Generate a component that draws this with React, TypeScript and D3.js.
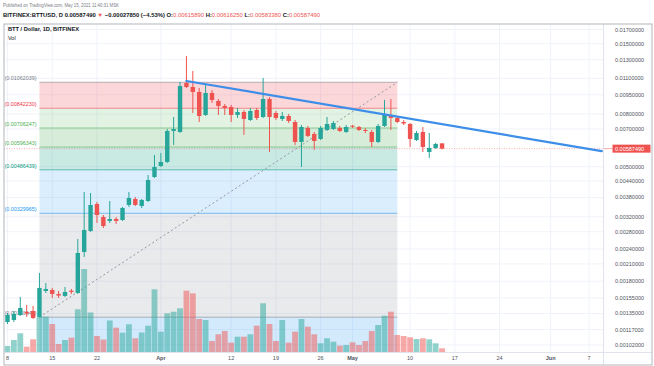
import React from "react";
import * as d3 from "d3";

// ---------- DATA ----------
const START = new Date(Date.UTC(2021, 2, 8)); // Mar 8 2021, first daily bar

const opens = [
  0.0012515, 0.001274, 0.0013322, 0.0013683, 0.0013805, 0.0013086, 0.0016502, 0.001665, 0.0016067, 0.0015783,
  0.0016547, 0.001621, 0.0023369, 0.0028185, 0.0035862, 0.0031935, 0.0030815, 0.0031371, 0.0031091, 0.0035543,
  0.0037498, 0.0035228, 0.0036834, 0.0045629, 0.0050333, 0.0052161, 0.0068784, 0.0068173, 0.010554, 0.010184,
  0.0097397, 0.0079333, 0.0096532, 0.0089885, 0.0085965, 0.0085202, 0.0079333, 0.0081483, 0.007587, 0.008295,
  0.0077931, 0.0091504, 0.008076, 0.0076553, 0.0078628, 0.0074529, 0.0062348, 0.0070646, 0.0066968, 0.0064048,
  0.00694, 0.0070019, 0.0070646, 0.0068173, 0.0072108, 0.0071279, 0.00694, 0.0068173, 0.0062348, 0.0071917,
  0.0078628, 0.0077239, 0.0074529, 0.0073212, 0.006347, 0.0068173, 0.0057033, 0.00591, 0.0061589,
];
const highs = [
  0.0013561, 0.0013805, 0.0015643, 0.0014565, 0.0014436, 0.0019378, 0.0017723, 0.0016951, 0.0016502, 0.0017103,
  0.00168, 0.0026244, 0.0039914, 0.0039559, 0.0036507, 0.003251, 0.0036834, 0.0031935, 0.0034915, 0.0039914,
  0.0038173, 0.0037498, 0.004645, 0.0055528, 0.0056527, 0.0070019, 0.0077931, 0.010648, 0.013428, 0.011747,
  0.010094, 0.010367, 0.009915, 0.0091504, 0.0087512, 0.0086735, 0.0084446, 0.008295, 0.0084446, 0.0084446,
  0.011036, 0.009315, 0.0082213, 0.0081483, 0.0080043, 0.007587, 0.0072561, 0.0071917, 0.0068173, 0.0071917,
  0.0077931, 0.0075196, 0.0071917, 0.0072561, 0.0072561, 0.0071917, 0.0070646, 0.00694, 0.0073212, 0.009069,
  0.0091504, 0.0078628, 0.007587, 0.0073867, 0.0068784, 0.0071279, 0.0067568, 0.0061794, 0.0061625,
];
const lows = [
  0.0012294, 0.0012515, 0.0013203, 0.0013086, 0.0012855, 0.0013065, 0.001621, 0.0015504, 0.0015504, 0.0015643,
  0.0016067, 0.0016067, 0.002235, 0.0027934, 0.003027, 0.002895, 0.003027, 0.0030002, 0.0030815, 0.0034915,
  0.0035228, 0.0034605, 0.0036507, 0.0045224, 0.0049887, 0.0051698, 0.0060702, 0.0067568, 0.010094, 0.008076,
  0.0074529, 0.0078628, 0.0088296, 0.0079333, 0.0079333, 0.0074529, 0.0077239, 0.0066373, 0.0075196, 0.007587,
  0.0077239, 0.0057033, 0.007587, 0.0075196, 0.0073867, 0.0060702, 0.0049887, 0.0065201, 0.005806, 0.006347,
  0.0068784, 0.00694, 0.0068173, 0.0067568, 0.0070646, 0.0068784, 0.0067568, 0.0059629, 0.0061794, 0.0071279,
  0.00694, 0.0073867, 0.0072561, 0.0059629, 0.0062906, 0.0057033, 0.0054063, 0.0058575, 0.0058338,
];
const closes = [
  0.0013322, 0.0013441, 0.0014181, 0.0013502, 0.001297, 0.0016951, 0.00168, 0.0016067, 0.0015846, 0.0016356,
  0.0016356, 0.0023162, 0.0028437, 0.0035543, 0.003251, 0.0029471, 0.0031371, 0.0030815, 0.0034605, 0.0037835,
  0.0035543, 0.0037164, 0.0044423, 0.0049887, 0.0052161, 0.0068784, 0.0070019, 0.010275, 0.010184, 0.0097397,
  0.0078628, 0.0096532, 0.009069, 0.0085965, 0.0084446, 0.0079333, 0.0081483, 0.0076553, 0.0082213, 0.0077239,
  0.0091504, 0.0077931, 0.0077239, 0.0078628, 0.0075196, 0.0062348, 0.0071279, 0.0065784, 0.0062906, 0.0070646,
  0.0073212, 0.0073867, 0.0068784, 0.0071279, 0.0071468, 0.00694, 0.0068784, 0.0062348, 0.0071917, 0.0079333,
  0.0077239, 0.0074529, 0.007354, 0.0064048, 0.0067568, 0.0059629, 0.00591, 0.0061246, 0.0058749,
];
// volume, millions of BTT (relative)
const volumes = [
  60, 120, 187, 53, 127, 353, 353, 280, 80, 120, 143, 427, 830, 395, 160, 125, 315, 243, 193, 277,
  137, 195, 263, 627, 203, 387, 403, 437, 613, 587, 330, 320, 110, 177, 210, 93, 153, 153, 177, 263,
  487, 280, 110, 320, 93, 203, 330, 253, 177, 87, 137, 103, 63, 70, 97, 70, 110, 210, 270, 363,
  403, 170, 160, 147, 130, 137, 127, 87, 37,
];

const priceTicks = [
  0.017, 0.015, 0.013, 0.011, 0.0095, 0.008, 0.007, 0.005, 0.0044, 0.0038, 0.0032, 0.0028, 0.0024,
  0.0021, 0.0018, 0.00155, 0.00135, 0.00117, 0.00102,
];
const timeTickDays = [0, 7, 14, 24, 35, 42, 49, 54, 63, 70, 77, 85, 91];
const timeTickLabels = ["8", "15", "22", "Apr", "12", "19", "26", "May", "10", "17", "24", "Jun", "7"];
const monthLabels = ["Apr", "May", "Jun"];

const fibLow = 0.00130647;
const fibHigh = 0.01062039;
const fibStartDay = 5;
const fibEndDay = 61;
const fibLevels = [0, 0.214, 0.382, 0.5, 0.618, 0.764, 1];
const fibColors = ["#787b86", "#2196f3", "#089981", "#4caf50", "#4caf50", "#f23645", "#787b86"];
const fibFillOpacity = [0.16, 0.16, 0.22, 0.22, 0.16, 0.2];

const trendDays = [28, 93];
const trendPrices = [0.010744, 0.005744];

const lastPrice = 0.0058749;

const FONT = "'Liberation Sans', Arial, Helvetica, sans-serif";
const UP = "#26a69a";
const DOWN = "#ef5350";

export default function App() {
  const W = 654, H = 366;
  const L = 4, R = 603, T = 24, B = 352;
  const day = (n: number) => d3.utcDay.offset(START, n);
  const x = d3.scaleUtc().domain([day(0), day(93)]).range([7.5, 601.8]);
  const y = d3.scaleLog().domain([0.017863, 0.0009574]).range([T, B]);
  const yv = d3.scaleLinear().domain([0, 1000]).range([B, B - 100]);
  const f8 = d3.format(".8f");

  const bars = opens.map((o, i) => ({
    d: day(i), o, h: highs[i], l: lows[i], c: closes[i], v: volumes[i], up: closes[i] >= o,
  }));

  const fx1 = x(day(fibStartDay));
  const fx2 = x(day(fibEndDay));
  const fibPrices = fibLevels.map((lv) => fibLow + lv * (fibHigh - fibLow));

  const trendLine = d3.line<number>()
    .x((_, i) => x(day(trendDays[i])))
    .y((p) => y(p));

  return (
    <svg width={W} height={H} style={{ position: "absolute", left: 0, top: 0, background: "#fff" }}
      fontFamily={FONT}>
      <defs>
        <clipPath id="plot"><rect x={L} y={T} width={R - L} height={B - T} /></clipPath>
      </defs>
      <rect x={0} y={0} width={W} height={H} fill="#fff" />

      {/* header */}
      <text x={3} y={7} fontSize={4.9} fill="#787b86" textLength={116} lengthAdjust="spacingAndGlyphs">
        Published on TradingView.com, May 15, 2021 11:40:31 MSK
      </text>
      <text x={3} y={17} fontSize={5.8} fill="#131722" textLength={317} lengthAdjust="spacingAndGlyphs">
        <tspan fontWeight="bold">BITFINEX:BTTUSD, D </tspan>
        <tspan fontWeight="bold">0.00587490 </tspan>
        <tspan fill={DOWN}>▼</tspan>
        <tspan fontWeight="bold"> −0.00027850 (−4.53%) O:</tspan>
        <tspan fill={DOWN}>0.00615890</tspan>
        <tspan fontWeight="bold"> H:</tspan>
        <tspan fill={DOWN}>0.00616250</tspan>
        <tspan fontWeight="bold"> L:</tspan>
        <tspan fill={DOWN}>0.00583380</tspan>
        <tspan fontWeight="bold"> C:</tspan>
        <tspan fill={DOWN}>0.00587490</tspan>
      </text>

      <g clipPath="url(#plot)">
        {/* grid */}
        {timeTickDays.map((d, i) => (
          <line key={"vg" + i} x1={x(day(d))} x2={x(day(d))} y1={T} y2={B} stroke="#f0f3fa" strokeWidth={1} />
        ))}
        {priceTicks.map((p, i) => (
          <line key={"hg" + i} x1={L} x2={R} y1={y(p)} y2={y(p)} stroke="#f0f3fa" strokeWidth={1} />
        ))}

        {/* fib zones */}
        {fibPrices.slice(0, -1).map((p, i) => (
          <rect key={"fz" + i} x={fx1} width={fx2 - fx1} y={y(fibPrices[i + 1])}
            height={y(p) - y(fibPrices[i + 1])} fill={fibColors[i]} fillOpacity={fibFillOpacity[i]} />
        ))}
        <rect x={fx1} width={fx2 - fx1} y={y(fibLow)} height={B - y(fibLow)} fill="#2196f3" fillOpacity={0.2} />
        {fibPrices.map((p, i) => (
          <line key={"fl" + i} x1={fx1} x2={fx2} y1={y(p)} y2={y(p)} stroke={fibColors[i]}
            strokeOpacity={0.55} strokeWidth={1} />
        ))}
        <line x1={fx1} y1={y(fibLow)} x2={fx2} y2={y(fibHigh)} stroke="#9598a1" strokeWidth={1}
          strokeDasharray="2,2.5" />
        {fibPrices.map((p, i) => (
          <text key={"ft" + i} x={4.5} y={y(p) - 2} fontSize={5} fill={fibColors[i]}
            textLength={32} lengthAdjust="spacingAndGlyphs">{`(${f8(p)})`}</text>
        ))}

        {/* volume */}
        {bars.map((b, i) => (
          <rect key={"v" + i} x={x(b.d) - 2.9} width={5.8} y={yv(b.v)} height={B - yv(b.v)}
            fill={b.up ? UP : DOWN} fillOpacity={0.5} />
        ))}

        {/* price line */}
        <line x1={L} x2={R} y1={y(lastPrice)} y2={y(lastPrice)} stroke={DOWN} strokeOpacity={0.45}
          strokeDasharray="1,1.5" strokeWidth={1} />

        {/* candles */}
        {bars.map((b, i) => {
          const cx = x(b.d);
          const col = b.up ? UP : DOWN;
          const top = y(Math.max(b.o, b.c));
          const bot = y(Math.min(b.o, b.c));
          return (
            <g key={"c" + i}>
              <line x1={cx} x2={cx} y1={y(b.h)} y2={y(b.l)} stroke={col} strokeWidth={1} />
              <rect x={cx - 2.2} width={4.4} y={top} height={Math.max(1, bot - top)} fill={col} />
            </g>
          );
        })}

        {/* trend line */}
        <path d={trendLine(trendPrices) || ""} fill="none" stroke="#3d8ee8" strokeWidth={2.2}
          strokeLinecap="round" />
      </g>

      {/* price axis */}
      {priceTicks.map((p, i) => (
        <text key={"pt" + i} x={615} y={y(p) + 2} fontSize={5.5} fill="#50535e">{f8(p)}</text>
      ))}
      <line x1={R} x2={612.5} y1={y(lastPrice)} y2={y(lastPrice)} stroke={DOWN} strokeOpacity={0.5} />
      <rect x={612.5} y={y(lastPrice) - 4} width={38} height={8} fill={DOWN} />
      <text x={615} y={y(lastPrice) + 2} fontSize={5.5} fill="#fff">{f8(lastPrice)}</text>

      {/* time axis */}
      {timeTickDays.map((d, i) => (
        <text key={"tt" + i} x={x(day(d))} y={359.5} fontSize={5.5} textAnchor="middle" fill="#50535e"
          fontWeight={monthLabels.includes(timeTickLabels[i]) ? "bold" : "normal"}>
          {timeTickLabels[i]}
        </text>
      ))}

      {/* frame */}
      <line x1={L} x2={652} y1={B + 0.5} y2={B + 0.5} stroke="#e0e3eb" />
      <line x1={R + 0.5} x2={R + 0.5} y1={T} y2={365} stroke="#e0e3eb" />
      <rect x={L} y={T} width={652 - L} height={365 - T} fill="none" stroke="#b2b5be" strokeWidth={1} />

      {/* legend */}
      <text x={8} y={31} fontSize={5.5} fontWeight="bold" fill="#131722" textLength={71}
        lengthAdjust="spacingAndGlyphs">BTT / Dollar, 1D, BITFINEX</text>
      <text x={8} y={39.5} fontSize={5.5} fill="#131722">Vol</text>
    </svg>
  );
}
